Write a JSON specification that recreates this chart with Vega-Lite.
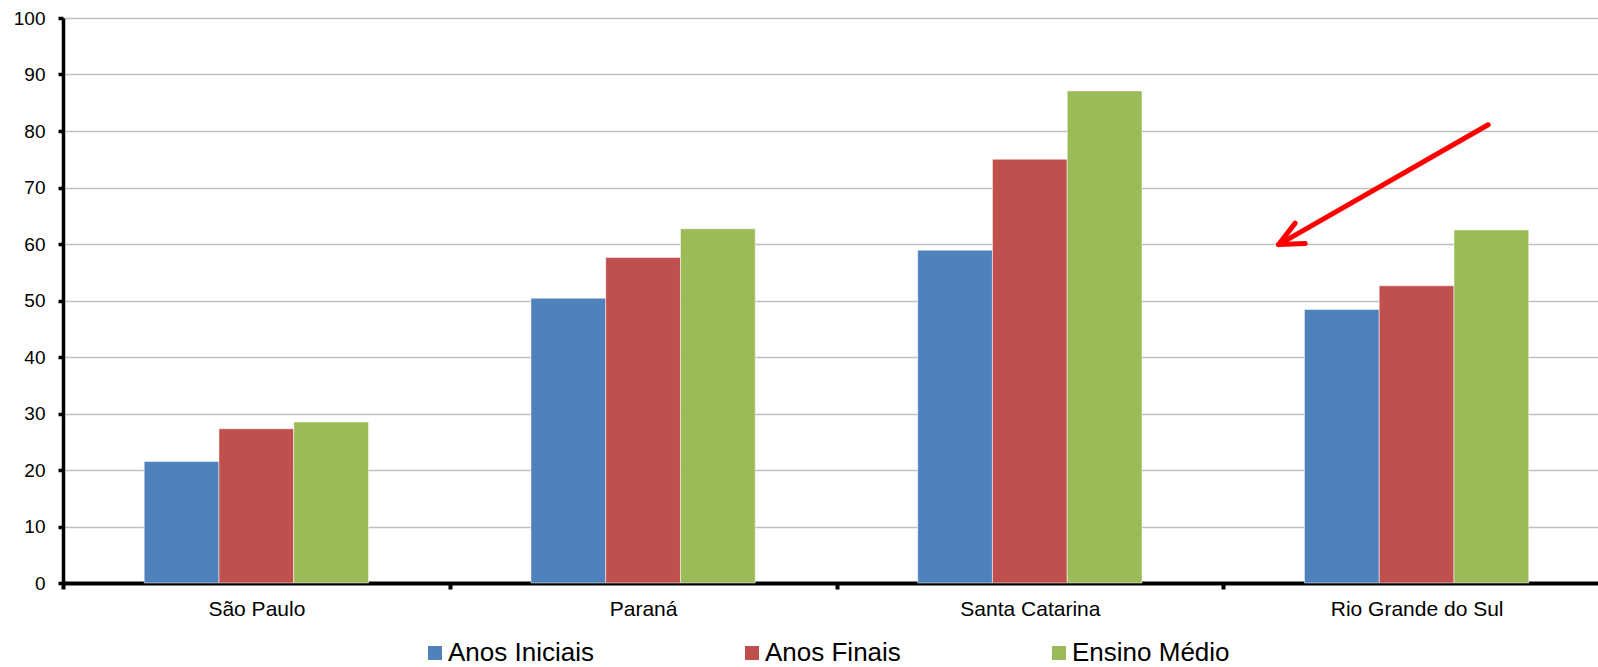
{
  "$schema": "https://vega.github.io/schema/vega-lite/v6.json",
  "width": 1535,
  "height": 565,
  "autosize": {"type": "none"},
  "padding": {"left": 63, "top": 18, "right": 0, "bottom": 84},
  "background": "white",
  "config": {"view": {"stroke": null}, "font": "Liberation Sans"},
  "layer": [
    {
      "data": {"values": [
        {"estado": "São Paulo", "serie": "Anos Iniciais", "valor": 21.5},
        {"estado": "São Paulo", "serie": "Anos Finais", "valor": 27.3},
        {"estado": "São Paulo", "serie": "Ensino Médio", "valor": 28.5},
        {"estado": "Paraná", "serie": "Anos Iniciais", "valor": 50.4},
        {"estado": "Paraná", "serie": "Anos Finais", "valor": 57.6},
        {"estado": "Paraná", "serie": "Ensino Médio", "valor": 62.7},
        {"estado": "Santa Catarina", "serie": "Anos Iniciais", "valor": 58.9},
        {"estado": "Santa Catarina", "serie": "Anos Finais", "valor": 75.0},
        {"estado": "Santa Catarina", "serie": "Ensino Médio", "valor": 87.1},
        {"estado": "Rio Grande do Sul", "serie": "Anos Iniciais", "valor": 48.4},
        {"estado": "Rio Grande do Sul", "serie": "Anos Finais", "valor": 52.6},
        {"estado": "Rio Grande do Sul", "serie": "Ensino Médio", "valor": 62.5}
      ]},
      "mark": {"type": "bar", "stroke": "#ffffff", "strokeOpacity": 0.5, "strokeWidth": 1},
      "encoding": {
        "x": {
          "field": "estado", "type": "nominal",
          "sort": ["São Paulo", "Paraná", "Santa Catarina", "Rio Grande do Sul"],
          "scale": {"range": [0, 1547], "paddingInner": 0, "paddingOuter": 0},
          "axis": {
            "title": null, "labelAngle": 0, "labelFontSize": 21, "labelColor": "#000000",
            "labelPadding": 9, "tickBand": "extent", "tickSize": 6, "tickWidth": 4,
            "tickColor": "#000000", "domainColor": "#000000", "domainWidth": 4, "grid": false
          }
        },
        "xOffset": {
          "field": "serie", "type": "nominal",
          "sort": ["Anos Iniciais", "Anos Finais", "Ensino Médio"],
          "scale": {"range": [81.2, 305.5], "paddingInner": 0, "paddingOuter": 0}
        },
        "y": {
          "field": "valor", "type": "quantitative",
          "scale": {"domain": [0, 100], "nice": false},
          "axis": {
            "title": null, "values": [0, 10, 20, 30, 40, 50, 60, 70, 80, 90, 100],
            "labelFontSize": 19, "labelColor": "#000000", "labelPadding": 13,
            "tickSize": 5, "tickWidth": 3.5, "tickColor": "#000000",
            "domainColor": "#000000", "domainWidth": 3.5,
            "grid": true, "gridColor": "#BFBFBF", "gridWidth": 1.5
          }
        },
        "color": {
          "field": "serie", "type": "nominal",
          "sort": ["Anos Iniciais", "Anos Finais", "Ensino Médio"],
          "scale": {"domain": ["Anos Iniciais", "Anos Finais", "Ensino Médio"], "range": ["#4F81BD", "#C0504D", "#9BBB59"]},
          "legend": {
            "title": null, "orient": "none", "direction": "horizontal",
            "legendX": 359, "legendY": 622, "labelFontSize": 26, "labelColor": "#000000",
            "labelLimit": 300, "symbolType": "square", "symbolSize": 196,
            "symbolStrokeWidth": 0, "labelOffset": 0, "columnPadding": 145
          }
        }
      }
    },
    {
      "data": {"values": [
        {"xa": 3.685, "ya": 81.1, "xb": 3.143, "yb": 59.9},
        {"xa": 3.143, "ya": 59.9, "xb": 3.186, "yb": 63.7},
        {"xa": 3.143, "ya": 59.9, "xb": 3.212, "yb": 60.1}
      ]},
      "mark": {"type": "rule", "color": "#FF0000", "strokeWidth": 5, "strokeCap": "round"},
      "encoding": {
        "x": {"field": "xa", "type": "quantitative", "scale": {"domain": [0, 4], "range": [0, 1547]}, "axis": null},
        "x2": {"field": "xb"},
        "y": {"field": "ya", "type": "quantitative", "title": null},
        "y2": {"field": "yb"}
      }
    }
  ],
  "resolve": {"scale": {"x": "independent"}}
}
